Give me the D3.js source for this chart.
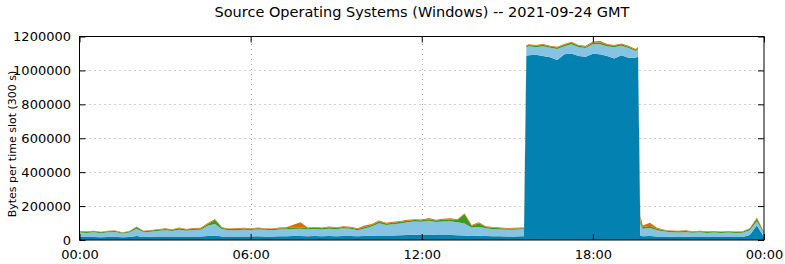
<!DOCTYPE html>
<html lang="en">
<head>
<meta charset="UTF-8">
<title>Source Operating Systems (Windows)</title>
<script src="https://d3js.org/d3.v7.min.js"></script>
<style>
    body { margin: 0; background: #fff; }
    svg { display: block; font-family: 'DejaVu Sans', sans-serif; }
    .grid line { stroke: #a0a0a0; stroke-width: 1; stroke-dasharray: 1 4; }
</style>
</head>
<body>
<div id="chart"></div>
<script>
    // 5-minute slots sampled every 15 min, plus extra points at the block edges (values in kB)
    const times = [
        "00:00","00:15","00:30","00:45","01:00","01:15","01:30","01:45","02:00","02:15","02:30","02:45",
        "03:00","03:15","03:30","03:45","04:00","04:15","04:30","04:45","05:00","05:15","05:30","05:45",
        "06:00","06:15","06:30","06:45","07:00","07:15","07:30","07:45","08:00","08:15","08:30","08:45",
        "09:00","09:15","09:30","09:45","10:00","10:15","10:30","10:45","11:00","11:15","11:30","11:45",
        "12:00","12:15","12:30","12:45","13:00","13:15","13:30","13:45","14:00","14:15","14:30","14:45",
        "15:00","15:15","15:30","15:35","15:40","15:45","16:00","16:15","16:30","16:45","17:00","17:15",
        "17:30","17:45","18:00","18:15","18:30","18:45","19:00","19:15","19:30","19:35","19:40","19:45",
        "20:00","20:15","20:30","20:45","21:00","21:15","21:30","21:45","22:00","22:15","22:30","22:45",
        "23:00","23:15","23:30","23:45","24:00"
    ];
    const blue = [
        18,17,18,16,18,19,16,17,24,18,19,20,
        21,20,21,20,21,20,24,26,21,20,20,21,
        21,22,21,20,22,22,23,23,22,23,22,23,
        22,24,23,22,24,25,27,26,27,28,29,31,
        30,33,30,30,29,28,27,24,25,23,22,22,
        21,21,22,22,1085,1090,1092,1085,1078,1062,1095,1100,
        1085,1080,1098,1095,1085,1070,1090,1075,1074,1080,25,22,
        23,21,20,19,18,19,18,18,17,18,17,18,
        17,18,30,85,18
    ];
    const lightBlue = [
        26,25,27,24,27,28,22,27,43,28,30,33,
        37,33,40,35,38,40,60,68,42,38,38,40,
        38,40,39,38,40,41,42,44,40,42,40,44,
        42,45,43,36,44,55,72,62,66,70,76,78,
        77,80,76,79,82,76,70,50,52,46,42,40,
        39,40,41,40,50,52,45,58,55,65,48,55,
        52,52,58,60,58,67,55,57,40,45,70,45,
        48,37,30,27,26,27,25,27,25,26,24,26,
        24,25,28,25,22
    ];
    const green = [
        6,6,6,5,6,6,5,6,9,6,7,7,
        7,7,8,7,8,8,10,24,8,7,7,7,
        7,7,7,7,7,7,8,8,7,8,7,8,
        7,8,8,7,8,9,10,9,9,9,9,9,
        9,10,9,10,11,14,55,10,22,8,8,7,
        7,7,7,7,8,8,8,8,8,8,8,9,
        8,8,9,9,8,8,9,8,8,8,18,10,
        12,8,7,7,7,7,6,7,6,6,6,6,
        6,6,8,15,6
    ];
    const orange = [
        3,3,3,3,3,3,2,3,4,3,3,3,
        4,3,4,3,4,4,6,6,4,3,4,4,
        4,4,3,3,4,5,17,30,4,4,4,5,
        4,4,4,4,10,5,6,5,5,5,5,5,
        5,6,5,6,6,5,6,5,5,4,4,4,
        4,4,4,4,5,5,5,5,4,4,5,5,
        5,5,5,10,5,5,5,5,5,5,30,8,
        18,6,4,3,3,4,3,3,3,3,3,3,
        3,3,4,8,3
    ];
    const yTicks = [0, 200000, 400000, 600000, 800000, 1000000, 1200000];
    const xTickHours = [0, 6, 12, 18, 24];
    const xTickLabels = ["00:00", "06:00", "12:00", "18:00", "00:00"];

    const keys = ["blue", "lightBlue", "green", "orange"];
    const colors = { blue: "#0382b2", lightBlue: "#87c3e2", green: "#3c9a1e", orange: "#e06c00" };

    const rows = times.map((t, i) => {
        const [h, m] = t.split(":").map(Number);
        return {
            hour: h + m / 60,
            blue: blue[i] * 1000,
            lightBlue: lightBlue[i] * 1000,
            green: green[i] * 1000,
            orange: orange[i] * 1000
        };
    });

    const W = 785, H = 264;
    const margin = { top: 36.5, right: 21, bottom: 24, left: 79.5 };

    const svg = d3.select("#chart").append("svg")
        .attr("width", W)
        .attr("height", H);

    const x = d3.scaleLinear().domain([0, 24]).range([margin.left, W - margin.right]);
    const y = d3.scaleLinear().domain([0, 1200000]).range([H - margin.bottom, margin.top]);

    // grid
    const grid = svg.append("g").attr("class", "grid");
    grid.selectAll(".gy").data(yTicks.slice(1, -1)).join("line")
        .attr("x1", x(0)).attr("x2", x(24))
        .attr("y1", d => Math.round(y(d)) + 0.5).attr("y2", d => Math.round(y(d)) + 0.5);
    grid.selectAll(".gx").data(xTickHours.slice(1, -1)).join("line")
        .attr("x1", d => Math.round(x(d)) + 0.5).attr("x2", d => Math.round(x(d)) + 0.5)
        .attr("y1", y(0)).attr("y2", y(1200000));

    // stacked areas
    const series = d3.stack().keys(keys)(rows);
    const area = d3.area()
        .x(d => x(d.data.hour))
        .y0(d => y(d[0]))
        .y1(d => y(d[1]));

    svg.append("g").selectAll("path").data(series).join("path")
        .attr("fill", d => colors[d.key])
        .attr("d", area);

    // frame
    svg.append("rect")
        .attr("x", x(0)).attr("y", y(1200000))
        .attr("width", x(24) - x(0)).attr("height", y(0) - y(1200000))
        .attr("fill", "none").attr("stroke", "#000").attr("stroke-width", 1);

    // axes with inward ticks
    const tl = 6;
    svg.append("g").attr("transform", `translate(${x(0)},0)`)
        .call(d3.axisLeft(y).tickValues(yTicks).tickSize(-tl).tickPadding(8.5).tickFormat(d3.format("d")))
        .call(g => g.select(".domain").remove());
    svg.append("g").attr("transform", `translate(${x(24)},0)`)
        .call(d3.axisRight(y).tickValues(yTicks).tickSize(-tl).tickFormat(""))
        .call(g => g.select(".domain").remove());
    svg.append("g").attr("transform", `translate(0,${y(0)})`)
        .call(d3.axisBottom(x).tickValues(xTickHours).tickSize(-tl).tickPadding(10).tickFormat((d, i) => xTickLabels[i]))
        .call(g => g.select(".domain").remove());
    svg.append("g").attr("transform", `translate(0,${y(1200000)})`)
        .call(d3.axisTop(x).tickValues(xTickHours).tickSize(-tl).tickFormat(""))
        .call(g => g.select(".domain").remove());

    svg.selectAll(".tick text").attr("font-size", 13).attr("font-family", "'DejaVu Sans', sans-serif").attr("fill", "#000");

    // title + y label
    svg.append("text")
        .attr("x", 422).attr("y", 17)
        .attr("text-anchor", "middle")
        .attr("font-size", 14.5)
        .text("Source Operating Systems (Windows) -- 2021-09-24 GMT");

    svg.append("text")
        .attr("transform", `translate(15.5,144) rotate(-90)`)
        .attr("text-anchor", "middle")
        .attr("font-size", 11)
        .text("Bytes per time slot (300 s)");
</script>
</body>
</html>
